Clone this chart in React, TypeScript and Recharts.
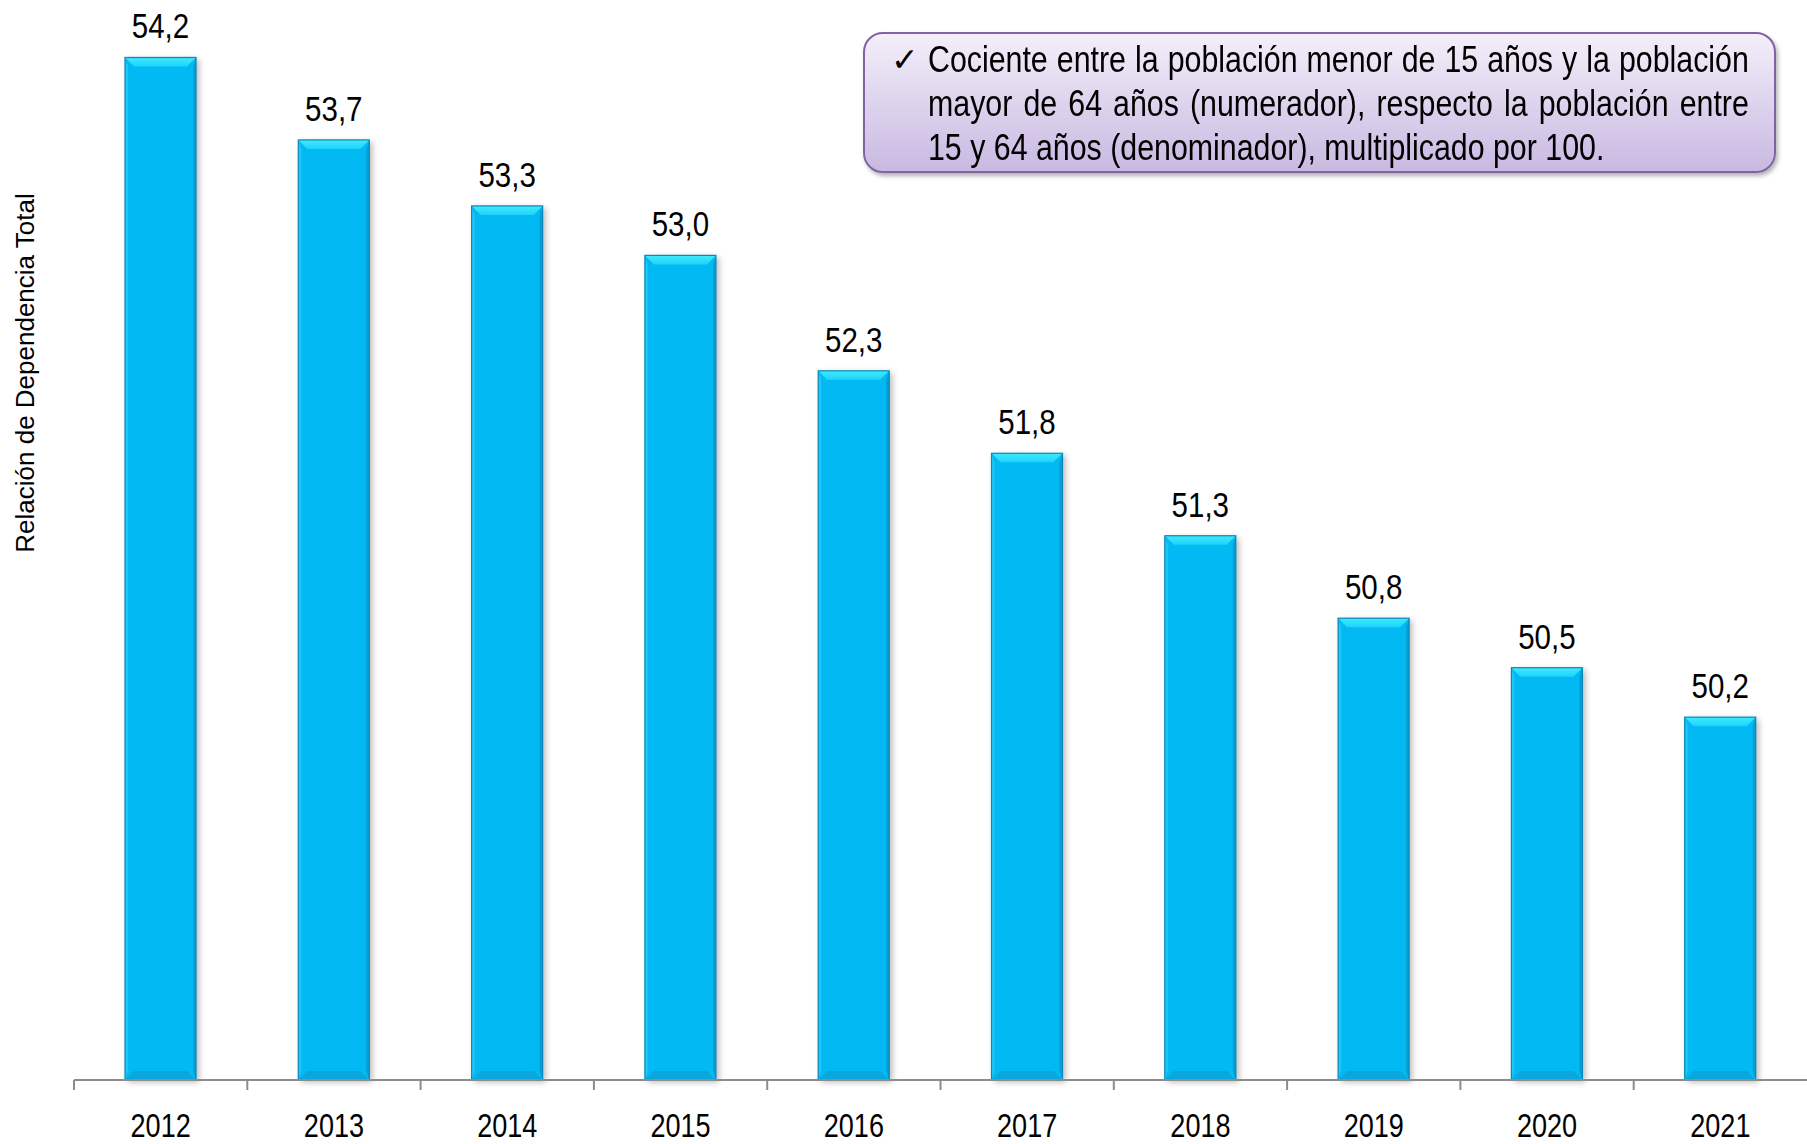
import React from 'react';
import { BarChart, Bar, XAxis, YAxis, LabelList } from 'recharts';

const years = ['2012', '2013', '2014', '2015', '2016', '2017', '2018', '2019', '2020', '2021'];
const dependencyRatio = [54.2, 53.7, 53.3, 53.0, 52.3, 51.8, 51.3, 50.8, 50.5, 50.2];
const yDomain: [number, number] = [48, 54.5];

const noteLines = [
  'Cociente entre la población menor de 15 años y la población',
  'mayor de 64 años (numerador), respecto la población entre',
  '15 y 64 años (denominador), multiplicado por 100.',
];

const data = years.map((year, i) => ({ year, value: dependencyRatio[i] }));

const W = 1807;
const H = 1144;
const LEFT = 74;
const SANS = '"Liberation Sans", Arial, sans-serif';
// no narrow font installed, so squeeze Liberation Sans horizontally
const NARROW_X = 0.82;

const NarrowText = ({ x, y, size, children }: any) => (
  <text
    transform={`translate(${x},${y}) scale(${NARROW_X},1)`}
    textAnchor="middle"
    fontSize={size}
    fontFamily={SANS}
    fill="#000"
  >
    {children}
  </text>
);

// bar with a bevelled top edge and soft shadow
const BevelBar = (props: any) => {
  const { x, y, width, height } = props;
  if (!height || height <= 0) return null;
  const b = 9;
  const s = 3;
  return (
    <g>
      <rect x={x + 3} y={y + 2} width={width} height={height} fill="#000" opacity={0.28} filter="url(#barBlur)" />
      <rect x={x} y={y} width={width} height={height} fill="#03B9F3" />
      <polygon points={`${x},${y} ${x + width},${y} ${x + width - b},${y + b} ${x + b},${y + b}`} fill="url(#bevelTop)" />
      <polygon points={`${x},${y} ${x + s},${y + b} ${x + s},${y + height - b} ${x},${y + height}`} fill="#20C6F6" />
      <polygon points={`${x + width},${y} ${x + width - s},${y + b} ${x + width - s},${y + height - b} ${x + width},${y + height}`} fill="#069FD4" />
      <polygon points={`${x},${y + height} ${x + width},${y + height} ${x + width - b},${y + height - b} ${x + b},${y + height - b}`} fill="#09A7DE" />
      <rect x={x} y={y} width={width} height={height} fill="none" stroke="#0B88B8" strokeWidth={1.2} />
    </g>
  );
};

const ValueLabel = (props: any) => {
  const { x, y, width, value } = props;
  return (
    <NarrowText x={x + width / 2} y={y - 19} size={36}>
      {Number(value).toFixed(1).replace('.', ',')}
    </NarrowText>
  );
};

const YearTick = (props: any) => {
  const { x, y, payload, width, visibleTicksCount } = props;
  const band = width && visibleTicksCount ? width / visibleTicksCount : (W - LEFT) / years.length;
  const edge = x - band / 2;
  return (
    <g>
      <line x1={edge} x2={edge} y1={y} y2={y + 10} stroke="#8C8C8C" strokeWidth={2} />
      <NarrowText x={x} y={y + 57} size={33}>
        {payload.value}
      </NarrowText>
    </g>
  );
};

const App: React.FC = () => {
  return (
    <div style={{ position: 'absolute', left: 0, top: 0, width: W, height: H, background: '#fff', overflow: 'hidden' }}>
      <BarChart width={W} height={H} data={data} margin={{ top: 8, right: 0, bottom: 0, left: LEFT }}>
        <defs>
          <linearGradient id="bevelTop" x1="0" y1="0" x2="0" y2="1">
            <stop offset="0%" stopColor="#3FEAFF" />
            <stop offset="100%" stopColor="#1ED3FA" />
          </linearGradient>
          <filter id="barBlur" x="-20%" y="-5%" width="140%" height="110%">
            <feGaussianBlur stdDeviation="3" />
          </filter>
        </defs>
        <XAxis
          dataKey="year"
          height={64}
          interval={0}
          tickSize={0}
          tickMargin={0}
          tickLine={false}
          axisLine={{ stroke: '#8C8C8C', strokeWidth: 2 }}
          tick={<YearTick />}
        />
        <YAxis hide domain={yDomain} />
        <Bar dataKey="value" barSize={71} shape={<BevelBar />} isAnimationActive={false}>
          <LabelList dataKey="value" content={<ValueLabel />} />
        </Bar>
      </BarChart>

      <div
        style={{
          position: 'absolute',
          left: 25,
          top: 373,
          transform: 'translate(-50%, -50%) rotate(-90deg)',
          whiteSpace: 'nowrap',
          fontFamily: SANS,
          fontSize: 26,
          color: '#000',
        }}
      >
        Relación de Dependencia Total
      </div>

      <div
        style={{
          position: 'absolute',
          left: 863,
          top: 32,
          width: 913,
          height: 141,
          boxSizing: 'border-box',
          border: '2px solid #8064A2',
          borderRadius: 20,
          background: 'linear-gradient(#F3EFF9, #C9B9E2)',
          boxShadow: '2px 3px 4px rgba(0,0,0,0.3)',
          color: '#000',
        }}
      >
        <span
          style={{
            position: 'absolute',
            left: 26,
            top: 4,
            fontFamily: '"DejaVu Sans", sans-serif',
            fontSize: 33,
            lineHeight: '44px',
            fontWeight: 'bold',
          }}
        >
          ✓
        </span>
        <div
          style={{
            position: 'absolute',
            left: 63,
            top: 4,
            width: 1001,
            fontFamily: SANS,
            fontSize: 37,
            lineHeight: '44px',
            transform: `scaleX(${NARROW_X})`,
            transformOrigin: 'left top',
          }}
        >
          {noteLines.map((l, i) => (
            <div
              key={i}
              style={{
                textAlign: 'justify',
                textAlignLast: i < noteLines.length - 1 ? 'justify' : 'left',
              }}
            >
              {l}
            </div>
          ))}
        </div>
      </div>
    </div>
  );
};

export default App;
